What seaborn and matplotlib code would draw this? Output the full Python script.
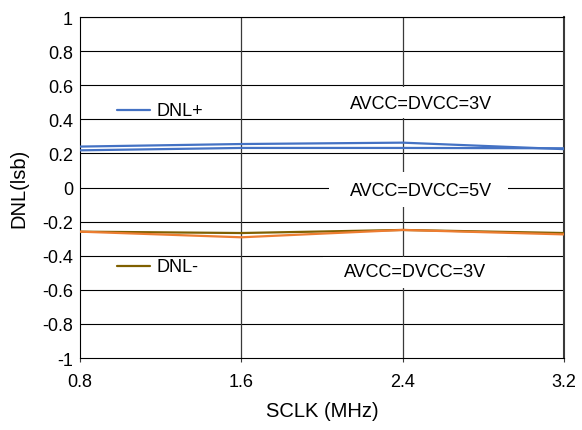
import matplotlib
matplotlib.use('Agg')
import matplotlib.pyplot as plt
import matplotlib.patches as patches
import seaborn as sns
import pandas as pd

# 데이터
sclk = [0.8, 1.6, 2.4, 3.2]
dnl_pos_3v = [0.240, 0.255, 0.263, 0.225]
dnl_pos_5v = [0.218, 0.232, 0.232, 0.230]
dnl_neg_3v = [-0.259, -0.267, -0.249, -0.267]
dnl_neg_5v = [-0.259, -0.292, -0.249, -0.275]

x_ticks = [0.8, 1.6, 2.4, 3.2]
x_labels = ['0.8', '1.6', '2.4', '3.2']
y_ticks = [1, 0.8, 0.6, 0.4, 0.2, 0, -0.2, -0.4, -0.6, -0.8, -1]
y_labels = ['1', '0.8', '0.6', '0.4', '0.2', '0', '-0.2', '-0.4', '-0.6', '-0.8', '-1']

series_names = ['DNL+ 3V', 'DNL+ 5V', 'DNL- 3V', 'DNL- 5V']
series_colors = ['#4472C4', '#4472C4', '#7F6000', '#ED7D31']

sns.set_style('white')
plt.rcParams['font.family'] = ['Liberation Sans', 'DejaVu Sans']
plt.rcParams['text.color'] = 'black'
plt.rcParams['axes.labelcolor'] = 'black'
plt.rcParams['xtick.labelcolor'] = 'black'
plt.rcParams['ytick.labelcolor'] = 'black'

df = pd.DataFrame({
    'SCLK': sclk * 4,
    'DNL': dnl_pos_3v + dnl_pos_5v + dnl_neg_3v + dnl_neg_5v,
    'series': [n for n in series_names for _ in sclk],
})

fig = plt.figure(figsize=(5.82, 4.31), dpi=100)
ax = fig.add_axes([80 / 582, 1 - 359 / 431, 484 / 582, 341 / 431])

# 격자
for y in y_ticks[:-1]:
    ax.axhline(y, color='black', lw=0.8, zorder=1)
for x in x_ticks[1:-1]:
    ax.axvline(x, color='#3a3a3a', lw=0.9, zorder=1)

# 텍스트 뒤 흰 박스
for (x0, x1, y0, y1) in [(2.035, 2.92, 0.41, 0.59), (2.035, 2.922, -0.114, 0.091), (2.005, 2.917, -0.59, -0.41)]:
    ax.add_patch(patches.Rectangle((x0, y0), x1 - x0, y1 - y0, facecolor='white', edgecolor='none', zorder=2))

sns.lineplot(data=df, x='SCLK', y='DNL', hue='series', hue_order=series_names,
             palette=series_colors, lw=1.6, legend=False, ax=ax, zorder=4)

fs = 13
ax.text(2.493, 0.49, 'AVCC=DVCC=3V', fontsize=fs, ha='center', va='center', zorder=3)
ax.text(2.491, -0.02, 'AVCC=DVCC=5V', fontsize=fs, ha='center', va='center', zorder=3)
ax.text(2.461, -0.495, 'AVCC=DVCC=3V', fontsize=fs, ha='center', va='center', zorder=3)

ax.plot([0.983, 1.147], [0.455, 0.455], color='#4472C4', lw=1.6, zorder=4)
ax.text(1.18, 0.45, 'DNL+', fontsize=fs, ha='left', va='center', zorder=3)
ax.plot([0.983, 1.147], [-0.46, -0.46], color='#7F6000', lw=1.6, zorder=4)
ax.text(1.18, -0.465, 'DNL-', fontsize=fs, ha='left', va='center', zorder=3)

ax.set_xlim(0.8, 3.2)
ax.set_ylim(-1, 1)
ax.set_xticks(x_ticks)
ax.set_xticklabels(x_labels, fontsize=fs)
ax.set_yticks(y_ticks)
ax.set_yticklabels(y_labels, fontsize=fs)
ax.tick_params(axis='x', length=3, width=0.8, color='#3a3a3a', pad=8, direction='out', bottom=True)
ax.tick_params(axis='y', length=0, pad=5)

ax.set_xlabel('SCLK (MHz)', fontsize=14.5, labelpad=8)
ax.set_ylabel('DNL(lsb)', fontsize=14.5, labelpad=10)

for side in ['left', 'bottom', 'top']:
    ax.spines[side].set_color('black')
    ax.spines[side].set_linewidth(0.8)
ax.spines['right'].set_color('#3a3a3a')
ax.spines['right'].set_linewidth(1.5)

fig.savefig('out.png', dpi=100)
